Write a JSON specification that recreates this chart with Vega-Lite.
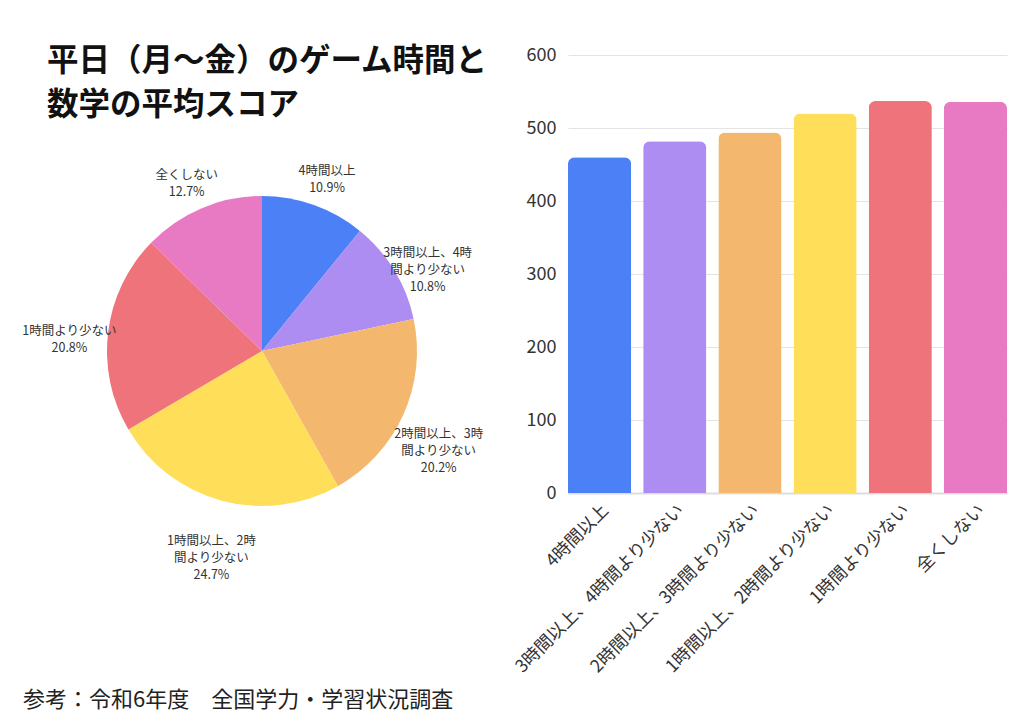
{
  "$schema": "https://vega.github.io/schema/vega-lite/v6.json",
  "background": "white",
  "padding": {"left": 5, "top": 45, "right": 10, "bottom": 8},
  "title": {
    "text": "参考：令和6年度　全国学力・学習状況調査",
    "orient": "bottom",
    "anchor": "start",
    "fontSize": 22,
    "fontWeight": "normal",
    "color": "#222",
    "offset": 14,
    "dx": 18
  },
  "data": {
    "values": [
      {"idx": 1, "cat": "4時間以上", "pie": "4時間以上\n10.9%", "share": 10.9, "score": 460},
      {"idx": 2, "cat": "3時間以上、4時間より少ない", "pie": "3時間以上、4時\n間より少ない\n10.8%", "share": 10.8, "score": 482},
      {"idx": 3, "cat": "2時間以上、3時間より少ない", "pie": "2時間以上、3時\n間より少ない\n20.2%", "share": 20.2, "score": 494},
      {"idx": 4, "cat": "1時間以上、2時間より少ない", "pie": "1時間以上、2時\n間より少ない\n24.7%", "share": 24.7, "score": 520},
      {"idx": 5, "cat": "1時間より少ない", "pie": "1時間より少ない\n20.8%", "share": 20.8, "score": 537},
      {"idx": 6, "cat": "全くしない", "pie": "全くしない\n12.7%", "share": 12.7, "score": 536}
    ]
  },
  "spacing": -7,
  "hconcat": [
    {
      "width": 514,
      "height": 592,
      "title": {
        "text": ["平日（月～金）のゲーム時間と", "数学の平均スコア"],
        "anchor": "start",
        "fontSize": 31.5,
        "fontWeight": "bold",
        "color": "#111",
        "lineHeight": 44,
        "dx": 42,
        "offset": -66
      },
      "encoding": {
        "theta": {"field": "share", "type": "quantitative", "stack": true},
        "order": {"field": "idx", "type": "quantitative"}
      },
      "layer": [
        {
          "mark": {"type": "arc", "outerRadius": 155},
          "encoding": {
            "color": {
              "field": "cat",
              "type": "nominal",
              "scale": {
                "domain": ["4時間以上", "3時間以上、4時間より少ない", "2時間以上、3時間より少ない", "1時間以上、2時間より少ない", "1時間より少ない", "全くしない"],
                "range": ["#4c80f6", "#ae8df3", "#f3b86e", "#ffde5a", "#ee737a", "#e879c3"]
              },
              "legend": null
            }
          }
        },
        {
          "mark": {
            "type": "text",
            "radius": 194,
            "fontSize": 12.5,
            "color": "#333",
            "lineBreak": "\n",
            "lineHeight": 17,
            "align": "center",
            "baseline": "middle",
            "dy": 3
          },
          "encoding": {"text": {"field": "pie", "type": "nominal"}}
        }
      ]
    },
    {
      "width": 439,
      "height": 438,
      "mark": {"type": "bar", "cornerRadiusTopLeft": 7, "cornerRadiusTopRight": 7},
      "encoding": {
        "x": {
          "field": "cat",
          "type": "nominal",
          "sort": null,
          "scale": {"paddingInner": 0.16, "paddingOuter": 0},
          "axis": {
            "title": null,
            "labelAngle": -45,
            "labelAlign": "right",
            "labelBaseline": "top",
            "labelFontSize": 17.5,
            "labelColor": "#333",
            "labelPadding": 8,
            "labelLimit": 300,
            "ticks": false,
            "domainColor": "#dddddd",
            "domainWidth": 2
          }
        },
        "y": {
          "field": "score",
          "type": "quantitative",
          "scale": {"domain": [0, 600]},
          "axis": {
            "title": null,
            "values": [0, 100, 200, 300, 400, 500, 600],
            "domain": false,
            "ticks": false,
            "labelFontSize": 18,
            "labelColor": "#333",
            "labelPadding": 12,
            "gridColor": "#e4e4e4"
          }
        },
        "color": {"field": "cat", "type": "nominal", "legend": null}
      }
    }
  ],
  "config": {
    "font": "Noto Sans CJK JP",
    "view": {"stroke": null}
  }
}
